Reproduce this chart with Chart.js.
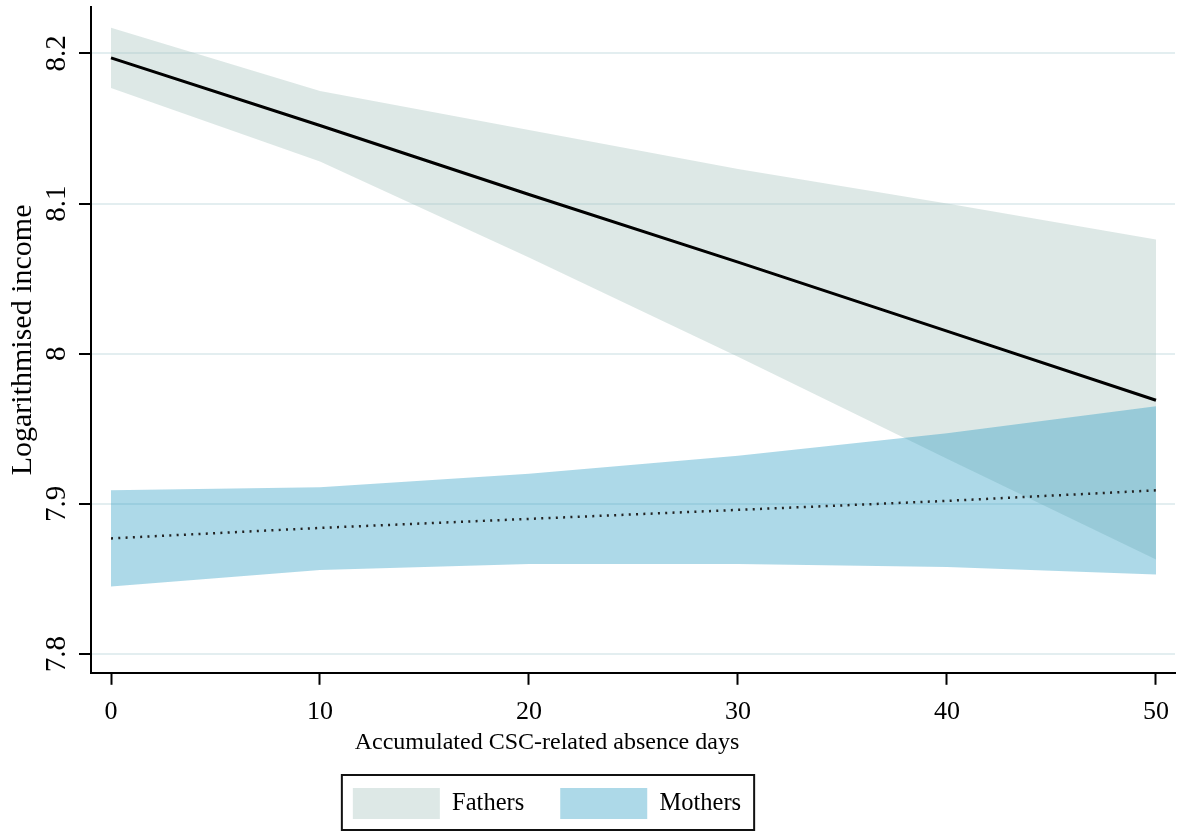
<!DOCTYPE html>
<html>
<head>
<meta charset="utf-8">
<script src="https://cdn.jsdelivr.net/npm/chart.js@4.4.1/dist/chart.umd.min.js"></script>
<style>
  html, body { margin: 0; padding: 0; background: #fff; overflow: hidden; }
  #wrap { position: relative; width: 1177px; height: 831px; overflow: hidden; }
  /* canvas shifted left so the title + legend centre lands where Stata put it */
  #chart { position: absolute; left: -81px; top: 0; }
</style>
</head>
<body>
<div id="wrap"><canvas id="chart" width="1258" height="831"></canvas></div>
<script>
const days = [0, 10, 20, 30, 40, 50];
const fathersFit = [8.197, 8.152, 8.106, 8.061, 8.015, 7.969];
const fathersUpper = [8.217, 8.175, 8.149, 8.123, 8.100, 8.076];
const fathersLower = [8.177, 8.128, 8.064, 7.998, 7.930, 7.863];
const mothersFit = [7.877, 7.884, 7.890, 7.896, 7.902, 7.909];
const mothersUpper = [7.909, 7.911, 7.920, 7.932, 7.947, 7.965];
const mothersLower = [7.845, 7.856, 7.860, 7.860, 7.858, 7.853];
const xTicks = [0, 10, 20, 30, 40, 50];
const yTicks = [7.8, 7.9, 8, 8.1, 8.2];

const fathersColor = 'rgba(165,195,190,0.38)';
const mothersColor = 'rgba(40,155,195,0.38)';
const serif = '"Liberation Serif", "Times New Roman", serif';

Chart.defaults.font.family = serif;
Chart.defaults.color = '#000';

function pts(ys) {
    return days.map((d, i) => ({ x: d, y: ys[i] }));
}

function band(label, ys, color, fill) {
    return {
        label: label,
        data: pts(ys),
        backgroundColor: color,
        borderColor: 'transparent',
        borderWidth: 0,
        pointRadius: 0,
        fill: fill,
        order: label.startsWith('Fathers') ? 2 : 1
    };
}

// box around the legend, like Stata's legend frame
const legendFrame = {
    id: 'legendFrame',
    afterDraw(chart) {
        const hb = chart.legend.legendHitBoxes;
        if (!hb || !hb.length) return;
        const last = hb[hb.length - 1];
        const left = hb[0].left - 11;
        const right = last.left + last.width + 13;
        const top = hb[0].top - 13;
        const bottom = hb[0].top + hb[0].height + 11;
        const ctx = chart.ctx;
        ctx.save();
        ctx.strokeStyle = '#111';
        ctx.lineWidth = 2;
        ctx.strokeRect(left, top, right - left, bottom - top);
        ctx.restore();
    }
};

const ctx = document.getElementById('chart').getContext('2d');
const chart = new Chart(ctx, {
    type: 'line',
    data: {
        datasets: [
            band('Fathers', fathersUpper, fathersColor, '+1'),
            band('Fathers lower', fathersLower, fathersColor, false),
            band('Mothers', mothersUpper, mothersColor, '+1'),
            band('Mothers lower', mothersLower, mothersColor, false),
            {
                label: 'Fathers fit',
                data: pts(fathersFit),
                borderColor: '#000',
                borderWidth: 3,
                pointRadius: 0,
                fill: false,
                order: 0
            },
            {
                label: 'Mothers fit',
                data: pts(mothersFit),
                borderColor: '#222',
                borderWidth: 2.5,
                borderDash: [2, 5.3],
                pointRadius: 0,
                fill: false,
                order: 0
            }
        ]
    },
    options: {
        responsive: false,
        devicePixelRatio: 1,
        animation: false,
        events: [],
        layout: { padding: { left: 0, right: 2, top: 7, bottom: 2 } },
        scales: {
            x: {
                type: 'linear',
                min: -0.957,
                max: 50.91,
                afterBuildTicks: s => { s.ticks = xTicks.map(v => ({ value: v })); },
                afterFit: s => {
                    s.height = 56;
                    s.paddingLeft = 0; s.paddingRight = 0;
                },
                ticks: {
                    autoSkip: false,
                    maxRotation: 0,
                    padding: 12,
                    font: { size: 26 },
                    color: '#000'
                },
                grid: {
                    drawOnChartArea: false,
                    drawTicks: true,
                    tickLength: 12,
                    tickWidth: 2,
                    tickColor: '#000'
                },
                border: { color: '#000', width: 2 }
            },
            y: {
                min: 7.7875,
                max: 8.2309,
                afterBuildTicks: s => { s.ticks = yTicks.map(v => ({ value: v })); },
                afterFit: s => {
                    s.width = 172;
                    s.paddingTop = 0; s.paddingBottom = 0;
                },
                ticks: {
                    minRotation: 90,
                    maxRotation: 90,
                    crossAlign: 'center',
                    padding: 3,
                    font: { size: 29 },
                    color: '#000',
                    callback: v => String(v)
                },
                grid: {
                    color: '#e3eef0',
                    lineWidth: 2,
                    drawTicks: true,
                    tickLength: 12,
                    tickWidth: 2,
                    tickColor: '#000'
                },
                border: { color: '#000', width: 2 },
                title: {
                    display: true,
                    text: 'Logarithmised income',
                    font: { size: 30 },
                    color: '#000',
                    padding: { top: 86, bottom: 0 }
                }
            }
        },
        plugins: {
            tooltip: { enabled: false },
            title: {
                display: true,
                position: 'bottom',
                text: 'Accumulated CSC-related absence days',
                font: { size: 24, weight: 'normal' },
                color: '#000',
                padding: { top: 0, bottom: -5.6 },
                weight: 500
            },
            legend: {
                position: 'bottom',
                labels: {
                    boxWidth: 87,
                    boxHeight: 31,
                    padding: 36,
                    font: { size: 24.5 },
                    color: '#000',
                    filter: item => item.text === 'Fathers' || item.text === 'Mothers',
                    sort: (a, b) => a.datasetIndex - b.datasetIndex
                }
            }
        }
    },
    plugins: [legendFrame]
});
</script>
</body>
</html>
